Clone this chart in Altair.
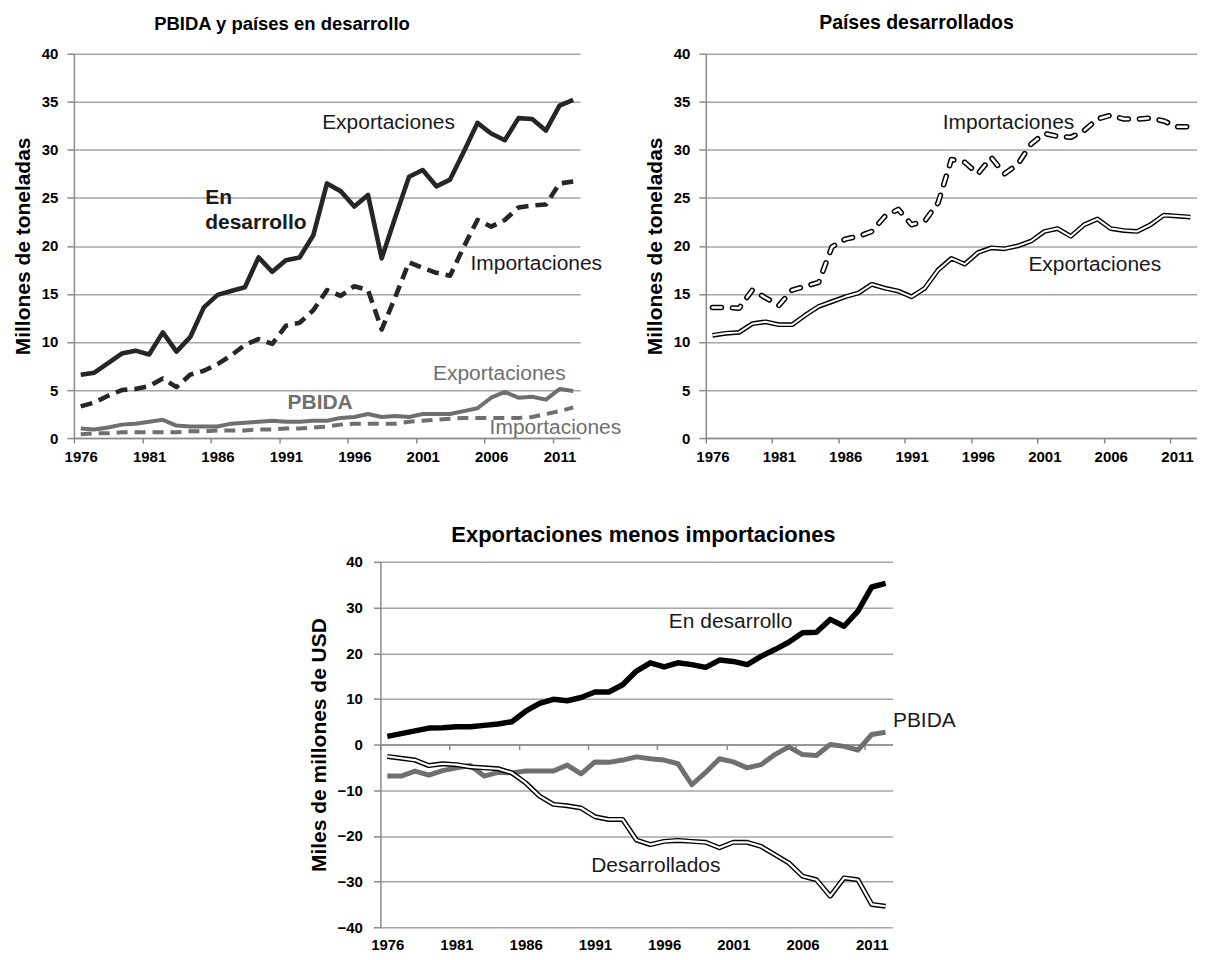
import altair as alt
import pandas as pd

years = list(range(1976, 2013))

# PBIDA y países en desarrollo (millones de toneladas)
dev_exp = [6.6, 6.8, 7.8, 8.8, 9.1, 8.7, 11.0, 9.0, 10.5, 13.6, 14.9, 15.3, 15.7, 18.8, 17.3, 18.5, 18.8, 21.1,
           26.5, 25.7, 24.1, 25.3, 18.7, 23.0, 27.2, 27.9, 26.2, 26.9, 29.8, 32.8, 31.7, 31.0, 33.3, 33.2, 32.0, 34.6, 35.2]
dev_imp = [3.3, 3.7, 4.4, 5.0, 5.1, 5.4, 6.2, 5.3, 6.6, 7.0, 7.7, 8.6, 9.7, 10.3, 9.8, 11.7, 12.0, 13.3,
           15.4, 14.8, 15.8, 15.4, 11.3, 14.7, 18.3, 17.7, 17.2, 16.9, 19.9, 22.7, 22.0, 22.7, 24.0, 24.2, 24.3, 26.5, 26.7]
ldc_exp = [1.0, 0.9, 1.1, 1.4, 1.5, 1.7, 1.9, 1.3, 1.2, 1.2, 1.2, 1.5, 1.6, 1.7, 1.8, 1.7, 1.7, 1.8,
           1.8, 2.1, 2.2, 2.5, 2.2, 2.3, 2.2, 2.5, 2.5, 2.5, 2.8, 3.1, 4.2, 4.8, 4.2, 4.3, 4.0, 5.1, 4.9]
ldc_imp = [0.4, 0.5, 0.5, 0.6, 0.6, 0.6, 0.6, 0.6, 0.7, 0.7, 0.8, 0.8, 0.8, 0.9, 0.9, 1.0, 1.0, 1.1,
           1.2, 1.4, 1.5, 1.5, 1.5, 1.5, 1.7, 1.8, 1.9, 2.0, 2.1, 2.1, 2.1, 2.1, 2.1, 2.2, 2.5, 2.8, 3.2]

# Países desarrollados (millones de toneladas)
dvd_imp = [13.6, 13.6, 13.5, 15.4, 14.6, 13.8, 15.4, 15.8, 16.2, 19.9, 20.7, 21.0, 21.5, 23.1, 23.8, 22.2, 22.6, 24.5,
           29.0, 28.7, 27.5, 29.2, 27.5, 28.5, 30.6, 31.7, 31.4, 31.3, 32.0, 33.2, 33.6, 33.2, 33.2, 33.3, 33.0, 32.4, 32.4]
dvd_exp = [10.7, 10.9, 11.0, 11.9, 12.1, 11.8, 11.8, 12.8, 13.7, 14.2, 14.7, 15.1, 16.0, 15.6, 15.3, 14.7, 15.6, 17.5,
           18.7, 18.1, 19.3, 19.8, 19.7, 20.0, 20.5, 21.5, 21.8, 21.0, 22.2, 22.8, 21.8, 21.6, 21.5, 22.2, 23.2, 23.1, 23.0]

# Exportaciones menos importaciones (miles de millones de USD)
bal_dev = [1.8, 2.4, 3.0, 3.6, 3.7, 3.9, 3.9, 4.2, 4.5, 5.0, 7.3, 9.0, 9.9, 9.6, 10.3, 11.5, 11.5, 13.1,
           16.1, 17.9, 17.0, 17.9, 17.5, 16.9, 18.5, 18.2, 17.5, 19.3, 20.8, 22.4, 24.5, 24.6, 27.4, 25.9, 29.2, 34.5, 35.3]
bal_ldc = [-6.9, -6.9, -5.8, -6.7, -5.7, -5.1, -4.6, -6.9, -6.1, -6.2, -5.8, -5.8, -5.8, -4.5, -6.4, -3.8, -3.9, -3.4,
           -2.7, -3.1, -3.4, -4.2, -8.8, -6.1, -3.1, -3.8, -5.1, -4.4, -2.2, -0.5, -2.2, -2.4, 0.0, -0.4, -1.2, 2.2, 2.7]
bal_dvd = [-2.6, -3.0, -3.4, -4.6, -4.2, -4.4, -4.9, -5.1, -5.3, -6.2, -8.4, -11.3, -13.1, -13.4, -13.9, -15.8, -16.4, -16.4,
           -20.9, -21.9, -21.2, -21.0, -21.2, -21.4, -22.6, -21.4, -21.4, -22.3, -24.1, -25.9, -28.8, -29.6, -33.2, -29.2, -29.6, -35.0, -35.4]

# Annotation labels
tl_text = ["Exportaciones", "Importaciones", "Exportaciones", "Importaciones"]
tl_x = [1998.5, 2009.3, 2006.6, 2010.7]
tl_y = [32.8, 18.1, 6.7, 1.0]
tl_col = ["#1a1a1a", "#1a1a1a", "#6f6f6f", "#6f6f6f"]
tl_bold_text = ["En", "desarrollo", "PBIDA"]
tl_bold_x = [1985.1, 1985.1, 1993.5]
tl_bold_y = [25.0, 22.4, 3.6]
tl_bold_col = ["#1a1a1a", "#1a1a1a", "#6f6f6f"]
tl_bold_align = ["left", "left", "center"]

tr_text = ["Importaciones", "Exportaciones"]
tr_x = [1998.3, 2004.8]
tr_y = [32.8, 18.0]

bt_text = ["En desarrollo", "PBIDA", "Desarrollados"]
bt_x = [2000.8, 2014.8, 1995.4]
bt_y = [26.9, 5.2, -26.7]

FONT = "Liberation Sans"
GRID = "#a6a6a6"
AXC = "#8a8a8a"
N = len(years)


def series(vals):
    return pd.DataFrame({"year": years, "v": vals})


def x_enc(width, labels=True, ticks=True, domain=True, offset=0, lpad=6):
    return alt.X(
        "year:Q",
        scale=alt.Scale(domain=[1975.5, 2012.5], nice=False, zero=False),
        axis=alt.Axis(
            values=[1975.5 + 5 * k for k in range(8)],
            labelExpr="toString(datum.value + 0.5)",
            labelOffset=width / N / 2,
            labelFlush=False,
            labelOverlap=False,
            labels=labels,
            ticks=ticks,
            domain=domain,
            offset=offset,
            orient="bottom",
            grid=False,
            tickSize=5,
            tickColor=AXC,
            tickWidth=1.5,
            domainColor=AXC,
            domainWidth=1.5,
            labelFont=FONT,
            labelFontWeight="bold",
            labelFontSize=15,
            labelColor="black",
            labelPadding=lpad,
            title=None,
        ),
    )


def y_enc(domain, step, title, lpad=9, tpad=8):
    vals = list(range(domain[0], domain[1] + 1, step))
    return alt.Y(
        "v:Q",
        scale=alt.Scale(domain=domain, nice=False, zero=False),
        axis=alt.Axis(
            values=vals,
            grid=True,
            gridColor=GRID,
            gridWidth=1.5,
            domainColor=AXC,
            domainWidth=1.5,
            tickColor=AXC,
            tickWidth=1.5,
            tickSize=7,
            labelFont=FONT,
            labelFontWeight="bold",
            labelFontSize=15,
            labelColor="black",
            labelPadding=lpad,
            title=title,
            titleFont=FONT,
            titleFontSize=21,
            titleFontWeight="bold",
            titleColor="black",
            titlePadding=tpad,
        ),
    )


def make_line(vals, xe, ye, color, sw, dash=None, cap="butt"):
    kw = dict(color=color, strokeWidth=sw, strokeCap=cap, strokeJoin="round")
    if dash:
        kw["strokeDash"] = dash
    return alt.Chart(series(vals)).mark_line(**kw).encode(x=xe, y=ye)


def texts(xs, ys, labels, colors, xe, ye, size, bold=False, align="center"):
    df = pd.DataFrame({"year": xs, "v": ys, "t": labels, "c": colors})
    aligns = align if isinstance(align, list) else [align] * len(xs)
    out = []
    for a in sorted(set(aligns)):
        sub = alt.Chart(df[[al == a for al in aligns]]).mark_text(
            font=FONT, fontSize=size, fontWeight="bold" if bold else "normal", align=a, baseline="middle"
        ).encode(x=xe, y=ye, text="t:N", color=alt.Color("c:N", scale=None))
        out.append(sub)
    return out


W1, H1 = 507, 385
W2 = 492
W3, H3 = 513, 366
TT = "Millones de toneladas"
TS = 21

title_kw = dict(font=FONT, fontWeight="bold", color="black", anchor="middle", frame="group")

xl = x_enc(W1)
yl = y_enc([0, 40], 5, TT)
left = alt.layer(
    make_line(dev_exp, xl, yl, "#262626", 4.6),
    make_line(dev_imp, xl, yl, "#262626", 4.6, dash=[12, 7]),
    make_line(ldc_exp, xl, yl, "#6f6f6f", 4),
    make_line(ldc_imp, xl, yl, "#6f6f6f", 4, dash=[11, 7]),
    *texts(tl_x, tl_y, tl_text, tl_col, xl, yl, TS),
    *texts(tl_bold_x, tl_bold_y, tl_bold_text, tl_bold_col, xl, yl, TS, bold=True, align=tl_bold_align),
).properties(width=W1, height=H1,
             title=alt.TitleParams("PBIDA y países en desarrollo", dx=-45, offset=13, fontSize=18.5, **title_kw))

xr = x_enc(W2)
yr = y_enc([0, 40], 5, TT)
right = alt.layer(
    make_line(dvd_imp, xr, yr, "black", 5.5, dash=[9, 11], cap="round"),
    make_line(dvd_imp, xr, yr, "white", 2.5, dash=[9, 11], cap="round"),
    make_line(dvd_exp, xr, yr, "black", 4.8),
    make_line(dvd_exp, xr, yr, "white", 2.0),
    *texts(tr_x, tr_y, tr_text, ["#1a1a1a"] * 2, xr, yr, TS),
).properties(width=W2, height=H1,
             title=alt.TitleParams("Países desarrollados", dx=-35, offset=13, fontSize=19.5, **title_kw))

BT = "Miles de millones de USD"
xb = x_enc(W3, ticks=False, domain=False, lpad=10)
yb = y_enc([-40, 40], 10, BT, lpad=11, tpad=8)
xz = x_enc(W3, labels=False, ticks=True, domain=True, offset=-H3 / 2)

bottom_main = alt.layer(
    make_line(bal_dev, xb, yb, "black", 5.5),
    make_line(bal_ldc, xb, yb, "#707070", 5),
    make_line(bal_dvd, xb, yb, "black", 5),
    make_line(bal_dvd, xb, yb, "white", 2.2),
    *texts(bt_x, bt_y, bt_text, ["#1a1a1a"] * 3, xb, yb, TS),
)
zero_axis = alt.Chart(series(bal_dev)).mark_line(opacity=0).encode(x=xz, y=yb)

bottom = alt.layer(bottom_main, zero_axis).resolve_axis(x="independent").properties(
    width=W3, height=H3,
    title=alt.TitleParams("Exportaciones menos importaciones", dx=7, offset=8, fontSize=22, **title_kw))

spacer = alt.Chart(pd.DataFrame({"year": [1976], "v": [0]})).mark_point(opacity=0, size=0).encode(
    x=alt.X("year:Q", axis=None), y=alt.Y("v:Q", axis=None)
).properties(width=234, height=1)

top_row = alt.hconcat(left, right, spacing=22)
bottom_row = alt.hconcat(spacer, bottom, spacing=0)

chart = alt.vconcat(top_row, bottom_row, spacing=60).properties(
    padding={"left": 4, "top": 4, "right": 0, "bottom": 0},
    background="white",
).configure_view(stroke="transparent", strokeWidth=0)

chart.save("out.html", embed_options={"renderer": "svg", "actions": False})
